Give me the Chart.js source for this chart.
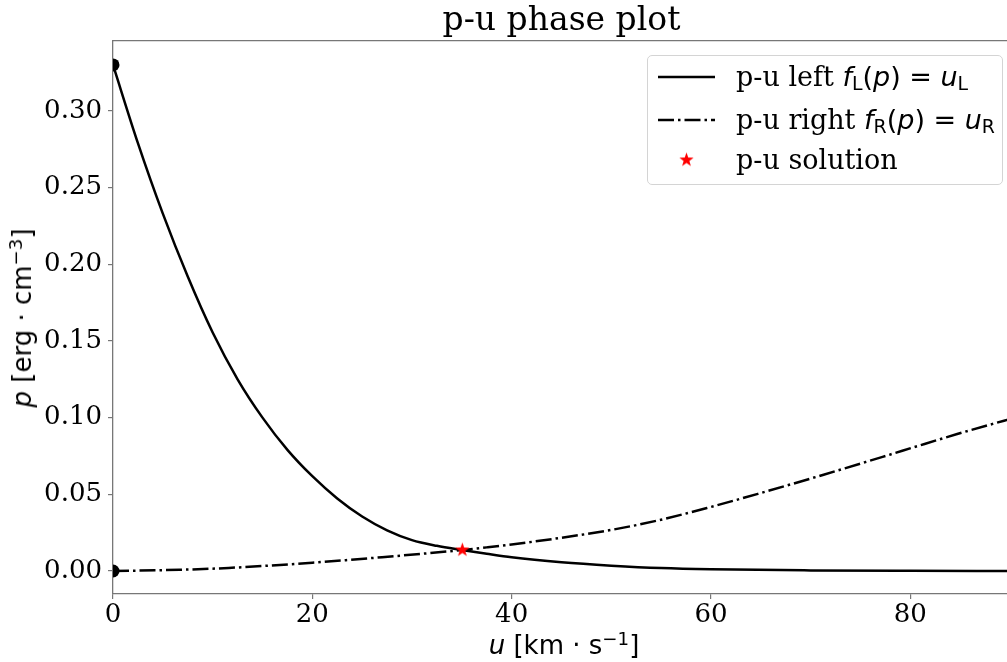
<!DOCTYPE html>
<html>
<head>
<meta charset="utf-8">
<script src="https://cdn.jsdelivr.net/npm/chart.js@4.4.0/dist/chart.umd.min.js"></script>
<style>
  body { margin: 0; overflow: hidden; background: #fff; }
  #wrap { position: relative; width: 1007px; height: 662px; overflow: hidden; }
  #chart { position: absolute; left: 0; top: 0; }
  .math { font-family: "DejaVu Sans", sans-serif; }
  .math i { font-style: italic; }
  .math sub { font-size: 0.7em; vertical-align: -0.22em; line-height: 0; }
  .math sup { font-size: 0.7em; vertical-align: 0.5em; line-height: 0; }
  #xlabel, #ylabel { position: absolute; font-size: 26px; line-height: 26px; white-space: pre; color: #000; }
  #xlabel { left: 564px; top: 632px; transform: translateX(-50%); }
  #ylabel { left: 22px; top: 318px; transform: translate(-50%, -50%) rotate(-90deg); }
  #legend {
    position: absolute; left: 647px; top: 55px; width: 354px; height: 128px;
    border: 1px solid #d4d4d4; border-radius: 5px; background: rgba(255,255,255,0.8);
  }
  .row { position: absolute; left: 0; width: 100%; height: 30px; }
  .row svg { position: absolute; left: 9px; top: 0; }
  .row .txt { position: absolute; left: 88px; top: 1px; font-family: "DejaVu Serif", serif; font-size: 27px; line-height: 27px; white-space: nowrap; }
</style>
</head>
<body>
<div id="wrap">
  <canvas id="chart" width="1018" height="662"></canvas>
  <div id="legend"></div>
  <div id="xlabel" class="math"><i>u</i> [km · s<sup>−1</sup>]</div>
  <div id="ylabel" class="math"><i>p</i> [erg · cm<sup>−3</sup>]</div>
</div>
<script>
// valores
const uLeft = [0, 2.5, 5, 7.5, 10, 12.5, 15, 17.5, 20, 22.5, 25, 27.5, 30, 32.5, 35, 37.5, 40, 45, 50, 55, 60, 70, 80, 90];
const pLeft = [0.33, 0.279, 0.233, 0.192, 0.1555, 0.125, 0.1, 0.079, 0.0618, 0.0473, 0.0355, 0.0265, 0.0201, 0.0164, 0.0137, 0.0112, 0.0089, 0.0057, 0.0035, 0.0019, 0.0011, 0.0004, 0.0001, 0];
const uRight = [0, 6.7, 11.6, 20, 27, 35.1, 37.5, 40, 44.7, 50, 54.7, 60, 64.7, 71.3, 78, 80.3, 84.7, 89.4, 90];
const pRight = [0, 0.0008, 0.002, 0.0054, 0.009, 0.0137, 0.0154, 0.0173, 0.0214, 0.0268, 0.033, 0.0418, 0.0503, 0.0628, 0.076, 0.0806, 0.0893, 0.098, 0.0991];
const uStates = [0, 0];
const pStates = [0.33, 0];
const uSolution = [35.05];
const pSolution = [0.0137];

const xTicks = [0, 20, 40, 60, 80];
const yTicks = [0, 0.05, 0.1, 0.15, 0.2, 0.25, 0.3];

const labels = ["p-u left", "p-u right", "p-u solution"];
const labelsMath = [
  ' <span class="math"><i>f</i><sub>L</sub>(<i>p</i>) = <i>u</i><sub>L</sub></span>',
  ' <span class="math"><i>f</i><sub>R</sub>(<i>p</i>) = <i>u</i><sub>R</sub></span>',
  "",
];

const axisColor = "#777";
const dashDot = [16, 4, 2.5, 4];

function pontos(xs, ys) {
  return xs.map((x, i) => ({ x: x, y: ys[i] }));
}

function estrela(r) {
  const c = document.createElement("canvas");
  c.width = c.height = Math.ceil(r * 2 + 2);
  const ctx = c.getContext("2d");
  const cx = c.width / 2, cy = c.height / 2;
  ctx.beginPath();
  for (let i = 0; i < 10; i++) {
    const rr = i % 2 ? r * 0.4 : r;
    const a = -Math.PI / 2 + (i * Math.PI) / 5;
    ctx.lineTo(cx + rr * Math.cos(a), cy + rr * Math.sin(a));
  }
  ctx.closePath();
  ctx.fillStyle = "#ff0000";
  ctx.fill();
  return c;
}
const starImg = estrela(7.5);

// legenda em HTML (para os subscritos)
document.getElementById("legend").innerHTML = [0, 1, 2]
  .map((i) => {
    const top = [6, 49, 89][i];
    let amostra;
    if (i === 0) amostra = '<line x1="1" y1="15" x2="58" y2="15" stroke="#000" stroke-width="2.5"/>';
    else if (i === 1) amostra = '<line x1="1" y1="15" x2="58" y2="15" stroke="#000" stroke-width="2.5" stroke-dasharray="' + dashDot.join(" ") + '"/>';
    else amostra = '<image href="' + starImg.toDataURL() + '" x="' + (29.5 - starImg.width / 2) + '" y="' + (15 - starImg.height / 2) + '" width="' + starImg.width + '" height="' + starImg.height + '"/>';
    return `<div class="row" style="top:${top}px"><svg width="60" height="30">${amostra}</svg><div class="txt">${labels[i]}${labelsMath[i]}</div></div>`;
  })
  .join("");

const tickFont = { family: "DejaVu Serif", size: 26 };

new Chart(document.getElementById("chart").getContext("2d"), {
  type: "scatter",
  data: {
    datasets: [
      {
        label: labels[2],
        data: pontos(uSolution, pSolution),
        pointStyle: starImg,
        pointRadius: 7,
      },
      {
        label: "states",
        data: pontos(uStates, pStates),
        pointRadius: 6.5,
        backgroundColor: "#000",
        borderWidth: 0,
        clip: 0,
      },
      {
        label: labels[0],
        data: pontos(uLeft, pLeft),
        showLine: true,
        pointRadius: 0,
        borderColor: "#000",
        borderWidth: 2.5,
        cubicInterpolationMode: "monotone",
      },
      {
        label: labels[1],
        data: pontos(uRight, pRight),
        showLine: true,
        pointRadius: 0,
        borderColor: "#000",
        borderWidth: 2.5,
        borderDash: dashDot,
        cubicInterpolationMode: "monotone",
      },
    ],
  },
  options: {
    responsive: false,
    animation: false,
    events: [],
    layout: { padding: 0 },
    plugins: {
      legend: { display: false },
      tooltip: { enabled: false },
    },
    scales: {
      x: {
        type: "linear",
        min: 0,
        max: 90,
        afterBuildTicks: (s) => { s.ticks = xTicks.map((v) => ({ value: v })); },
        afterFit: (s) => { s.height = 68; },
        ticks: { color: "#000", font: tickFont, padding: 1, maxRotation: 0 },
        grid: { drawOnChartArea: false, drawTicks: true, tickLength: 5, color: axisColor, lineWidth: 1.2 },
        border: { display: true, color: axisColor, width: 1.3 },
      },
      // eixo de cima só para a moldura e o título centrado na área do gráfico
      xTop: {
        type: "linear",
        position: "top",
        min: 0,
        max: 90,
        afterFit: (s) => { s.height = 41; },
        ticks: { display: false },
        grid: { display: false, drawTicks: false },
        border: { display: true, color: axisColor, width: 1.3 },
        title: {
          display: true,
          text: "p-u phase plot",
          color: "#000",
          font: { family: "DejaVu Serif", size: 33, weight: "normal", lineHeight: 1.15 },
          padding: { top: 2.6, bottom: 0 },
        },
      },
      y: {
        type: "linear",
        min: -0.015,
        max: 0.3456,
        afterBuildTicks: (s) => { s.ticks = yTicks.map((v) => ({ value: v })); },
        afterFit: (s) => { s.width = 113; },
        ticks: { color: "#000", font: tickFont, padding: 6, callback: (v) => v.toFixed(2) },
        grid: { drawOnChartArea: false, drawTicks: true, tickLength: 5, color: axisColor, lineWidth: 1.2 },
        border: { display: true, color: axisColor, width: 1.3 },
      },
    },
  },
});
</script>
</body>
</html>
